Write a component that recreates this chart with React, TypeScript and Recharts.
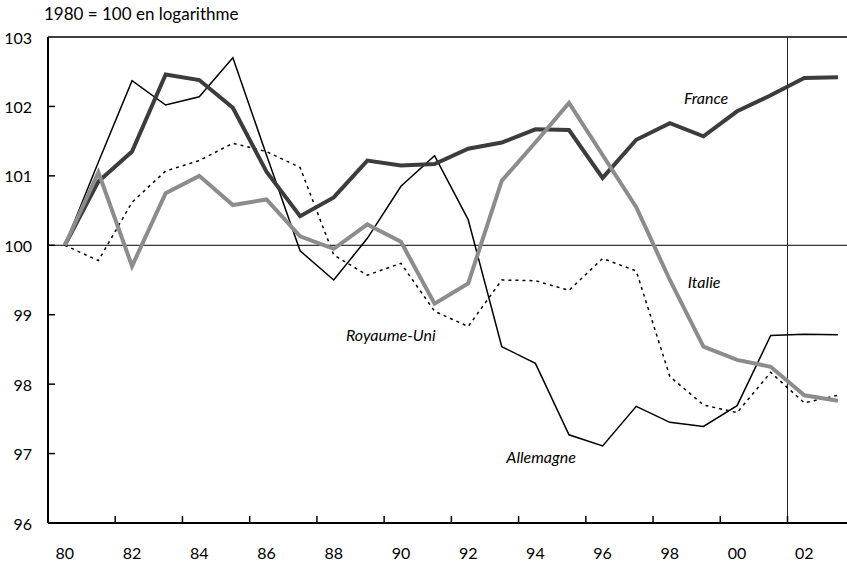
import { LineChart, Line, XAxis, YAxis, ReferenceLine, ReferenceDot } from 'recharts';

// 1980 = 100, en logarithme
const years = [
  1980, 1981, 1982, 1983, 1984, 1985, 1986, 1987, 1988, 1989, 1990, 1991,
  1992, 1993, 1994, 1995, 1996, 1997, 1998, 1999, 2000, 2001, 2002, 2003,
];
const france = [
  100, 100.92, 101.35, 102.46, 102.38, 101.98, 101.06, 100.42, 100.69, 101.22, 101.15, 101.17,
  101.39, 101.48, 101.67, 101.66, 100.97, 101.52, 101.76, 101.57, 101.93, 102.16, 102.41, 102.42,
];
const italie = [
  100, 101.05, 99.7, 100.75, 101.0, 100.58, 100.66, 100.13, 99.95, 100.3, 100.05, 99.16,
  99.45, 100.93, 101.48, 102.05, 101.3, 100.55, 99.5, 98.54, 98.35, 98.25, 97.84, 97.76,
];
const allemagne = [
  100, 101.2, 102.37, 102.02, 102.14, 102.7, 101.3, 99.92, 99.5, 100.1, 100.85, 101.29,
  100.37, 98.54, 98.3, 97.27, 97.11, 97.68, 97.45, 97.39, 97.69, 98.7, 98.72, 98.71,
];
const royaumeUni = [
  100, 99.78, 100.62, 101.07, 101.22, 101.47, 101.35, 101.12, 99.86, 99.57, 99.74, 99.05,
  98.83, 99.5, 99.49, 99.35, 99.81, 99.63, 98.11, 97.7, 97.59, 98.17, 97.73, 97.84,
];

const xLabelYears = [1980, 1982, 1984, 1986, 1988, 1990, 1992, 1994, 1996, 1998, 2000, 2002];
const xMarkYears = [1981.5, 1983.5, 1985.5, 1987.5, 1989.5, 1991.5, 1993.5, 1995.5, 1997.5, 1999.5, 2001.5];
const yTicks = [96, 97, 98, 99, 100, 101, 102, 103];

// series label anchors (year, value)
const labels = [
  { name: 'France', year: 1999.08, value: 102.12 },
  { name: 'Italie', year: 1999.02, value: 99.47 },
  { name: 'Royaume-Uni', year: 1989.7, value: 98.71 },
  { name: 'Allemagne', year: 1994.17, value: 96.94 },
];

const data = years.map((year, i) => ({
  year,
  france: france[i],
  italie: italie[i],
  allemagne: allemagne[i],
  royaumeUni: royaumeUni[i],
}));

const FONT = 'Lato, "DejaVu Sans", sans-serif';

function XTick(props: any) {
  const { x, y, payload } = props;
  const v = payload.value;
  if (!Number.isInteger(v)) {
    return <line x1={x} x2={x} y1={y} y2={y - 7} stroke="#000" strokeWidth={1.5} />;
  }
  return (
    <text x={x} y={y + 29} textAnchor="middle" dominantBaseline="central" fontFamily={FONT} fontSize={16} fill="#000">
      {String(v % 100).padStart(2, '0')}
    </text>
  );
}

function YTick(props: any) {
  const { x, y, payload } = props;
  const v = payload.value;
  return (
    <g>
      {v > 96 && v < 103 && <line x1={x} x2={x + 7} y1={y} y2={y} stroke="#000" strokeWidth={1.5} />}
      <text x={x - 16} y={y} textAnchor="end" dominantBaseline="central" fontFamily={FONT} fontSize={16} fill="#000">
        {v}
      </text>
    </g>
  );
}

export default function App() {
  return (
    <div style={{ position: 'absolute', left: 0, top: 0, width: 847, height: 569, background: '#fff' }}>
      <div style={{ position: 'absolute', left: 44, top: 3, fontFamily: FONT, fontSize: 17, color: '#000', whiteSpace: 'nowrap' }}>
        1980 = 100 en logarithme
      </div>
      <LineChart width={847} height={569} data={data} margin={{ top: 37, right: 0, bottom: 0, left: 0 }}>
        <XAxis
          dataKey="year"
          type="number"
          domain={[1979.5, 2003.27]}
          ticks={[...xLabelYears, ...xMarkYears]}
          interval={0}
          tickSize={0}
          tickMargin={0}
          tickLine={false}
          tick={(p: any) => <XTick {...p} />}
          axisLine={{ stroke: '#000', strokeWidth: 2 }}
          height={46}
          allowDataOverflow
        />
        <YAxis
          type="number"
          domain={[96, 103]}
          ticks={yTicks}
          interval={0}
          tickSize={0}
          tickMargin={0}
          tickLine={false}
          tick={(p: any) => <YTick {...p} />}
          axisLine={{ stroke: '#000', strokeWidth: 2 }}
          width={48}
          allowDataOverflow
        />
        <ReferenceLine y={103} stroke="#000" strokeWidth={1.5} />
        <ReferenceLine y={100} stroke="#000" strokeWidth={1} />
        <ReferenceLine x={2001.5} stroke="#222" strokeWidth={1} />
        <Line dataKey="royaumeUni" stroke="#000" strokeWidth={1.5} strokeDasharray="3 4" dot={false} isAnimationActive={false} />
        <Line dataKey="allemagne" stroke="#000" strokeWidth={1.5} dot={false} isAnimationActive={false} />
        <Line dataKey="france" stroke="#3c3c3c" strokeWidth={4} dot={false} isAnimationActive={false} />
        <Line dataKey="italie" stroke="#8c8c8c" strokeWidth={4} dot={false} isAnimationActive={false} />
        {labels.map((l) => (
          <ReferenceDot
            key={l.name}
            x={l.year}
            y={l.value}
            r={0}
            fill="none"
            stroke="none"
            label={{ value: l.name, position: 'center', fontFamily: FONT, fontSize: 16, fontStyle: 'italic', fill: '#000' }}
          />
        ))}
      </LineChart>
    </div>
  );
}
